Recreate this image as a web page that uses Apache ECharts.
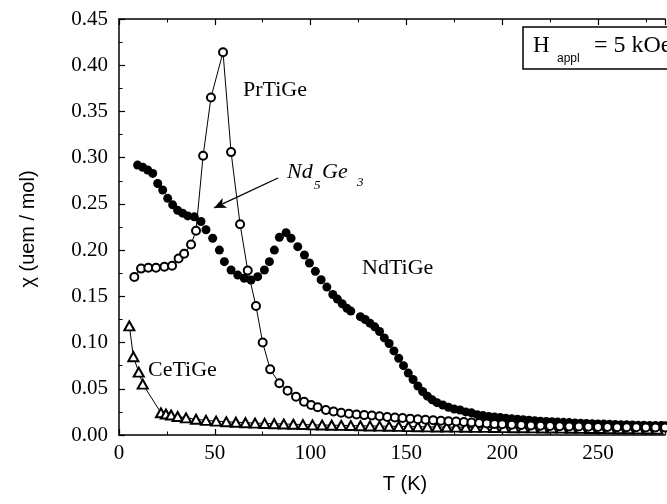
<!DOCTYPE html>
<html>
<head>
<meta charset="utf-8">
<script src="https://cdn.jsdelivr.net/npm/echarts@6/dist/echarts.min.js"></script>
<style>html,body{margin:0;padding:0;background:#fff}#c{width:667px;height:504px}</style>
</head>
<body>
<div id="c"></div>
<script>
// ---- data ----
const prT = [8, 11.5, 15.3, 19.3, 23.7, 27.7, 31.1, 34, 37.6, 40.2, 43.9, 48, 54.3, 58.5, 63.2, 67.2, 71.5, 75, 78.9, 83.7, 88, 92.4, 96.6, 100.3, 103.7, 108, 112, 116, 120, 124, 128, 132, 136, 140, 144, 148, 152, 156, 160, 164, 168, 172, 176, 180, 184, 188, 192, 196, 200, 205, 210, 215, 220, 225, 230, 235, 240, 245, 250, 255, 260, 265, 270, 275, 280, 285];
const prChi = [0.171, 0.180, 0.181, 0.181, 0.182, 0.183, 0.191, 0.196, 0.206, 0.221, 0.302, 0.365, 0.414, 0.306, 0.228, 0.178, 0.1395, 0.100, 0.071, 0.056, 0.048, 0.0415, 0.036, 0.0325, 0.030, 0.027, 0.0255, 0.024, 0.023, 0.0222, 0.0215, 0.021, 0.0203, 0.0195, 0.019, 0.0183, 0.0177, 0.017, 0.0165, 0.016, 0.0155, 0.015, 0.0145, 0.0140, 0.0135, 0.0130, 0.0125, 0.0120, 0.0116, 0.0112, 0.0108, 0.0104, 0.0101, 0.0098, 0.0095, 0.0093, 0.0091, 0.0089, 0.0087, 0.0086, 0.0085, 0.0084, 0.0083, 0.0082, 0.0081, 0.0080];

const ceT = [5.4, 7.5, 10.3, 12.4, 21.9, 24.5, 27.2, 30.6, 35, 40.2, 45.4, 50.7, 56, 61, 66, 71, 76, 81, 86, 91, 96, 101, 106, 111, 116, 121, 126, 131, 136, 141, 146, 151, 156, 161, 166, 171, 176, 181, 186, 191, 196, 201, 206, 211, 216, 221, 226, 231, 236, 241, 246, 251, 256, 261, 266, 271, 276, 281];
const ceChi = [0.118, 0.0847, 0.068, 0.055, 0.024, 0.0227, 0.0216, 0.0200, 0.0185, 0.0170, 0.0158, 0.0150, 0.0143, 0.0138, 0.0133, 0.0129, 0.0125, 0.0122, 0.0119, 0.0116, 0.0113, 0.0110, 0.0108, 0.0106, 0.0104, 0.0102, 0.0100, 0.0098, 0.0096, 0.0094, 0.0093, 0.0091, 0.0090, 0.0088, 0.0087, 0.0086, 0.0085, 0.0084, 0.0083, 0.0082, 0.0081, 0.0080, 0.0079, 0.0078, 0.0077, 0.0076, 0.0075, 0.0074, 0.0073, 0.0072, 0.0071, 0.0070, 0.0069, 0.0068, 0.0067, 0.0066, 0.0065, 0.0064];

const ndT = [9.7, 12.4, 15, 17.6, 20.2, 22.8, 25.4, 28, 30.6, 33.2, 35.9, 39.3, 42.8, 45.4, 48.9, 52.4, 55, 58.5, 62, 65.4, 68.9, 72.4, 75.9, 78.5, 81.1, 83.7, 87.2, 89.8, 93.3, 96.8, 99.4, 102.5, 105.5, 108.5, 111.6, 114, 116.5, 119, 121, 126, 128.5, 131, 133.5, 136, 138.5, 141, 143.5, 146, 148.5, 151, 153.5, 156, 158.5, 161, 163.5, 166, 169, 172, 175, 178, 181, 184, 187, 190, 193, 196, 199, 202, 205, 208, 211, 214, 217, 220, 223, 226, 229, 232, 235, 238, 241, 244, 247, 250, 253, 256, 259, 262, 265, 268, 271, 274, 277, 280, 283, 285];
const ndChi = [0.292, 0.2896, 0.2867, 0.283, 0.272, 0.265, 0.256, 0.249, 0.243, 0.240, 0.237, 0.236, 0.231, 0.222, 0.2128, 0.200, 0.1875, 0.1785, 0.173, 0.1695, 0.1677, 0.1713, 0.1785, 0.1875, 0.200, 0.2138, 0.2189, 0.2128, 0.2037, 0.1947, 0.186, 0.177, 0.168, 0.160, 0.152, 0.147, 0.142, 0.137, 0.134, 0.128, 0.125, 0.121, 0.117, 0.112, 0.105, 0.099, 0.091, 0.083, 0.075, 0.067, 0.060, 0.053, 0.047, 0.042, 0.038, 0.035, 0.0325, 0.030, 0.028, 0.027, 0.025, 0.024, 0.022, 0.021, 0.020, 0.0195, 0.019, 0.018, 0.0175, 0.017, 0.0165, 0.016, 0.0155, 0.015, 0.0147, 0.0143, 0.014, 0.0137, 0.0134, 0.0131, 0.0128, 0.0125, 0.0122, 0.012, 0.0118, 0.0116, 0.0114, 0.0112, 0.011, 0.0108, 0.0106, 0.0105, 0.0104, 0.0103, 0.0102, 0.0101];

// Nd5Ge3 arrow, in data coordinates (tail -> head)
const arrowFrom = [83, 0.278];
const arrowTo = [49.6, 0.2456];

const zip = (a, b) => a.map((v, i) => [v, b[i]]);

const serif = '"Liberation Serif", "Times New Roman", "DejaVu Serif", serif';
const sans = '"Liberation Sans", Arial, "DejaVu Sans", sans-serif';

const chart = echarts.init(document.getElementById('c'), null, {renderer: 'canvas'});
const axisCommon = {
  type: 'value',
  axisLine: {show: true, onZero: false, lineStyle: {color: '#000', width: 1.5}},
  axisTick: {show: true, inside: true, length: 6, lineStyle: {color: '#000', width: 1.2}},
  minorTick: {show: true, splitNumber: 2, length: 3.5, lineStyle: {color: '#000', width: 1}},
  splitLine: {show: false}
};
chart.setOption({
  animation: false,
  backgroundColor: '#fff',
  grid: {left: 119, top: 19, right: 2, bottom: 69, containLabel: false},
  xAxis: [
    Object.assign({}, axisCommon, {
      position: 'bottom', min: 0, max: 285, interval: 50,
      axisLabel: {color: '#000', fontFamily: serif, fontSize: 21, margin: 8,
        showMaxLabel: false}
    }),
    Object.assign({}, axisCommon, {
      position: 'top', min: 0, max: 285, interval: 50,
      axisLabel: {show: false}
    })
  ],
  yAxis: [
    Object.assign({}, axisCommon, {
      position: 'left', min: 0, max: 0.45, interval: 0.05,
      axisLabel: {color: '#000', fontFamily: serif, fontSize: 21, margin: 11,
        formatter: v => v.toFixed(2)}
    })
  ],
  series: [
    {
      name: 'CeTiGe', type: 'line', data: zip(ceT, ceChi),
      symbol: 'emptyTriangle', symbolSize: [10, 9],
      itemStyle: {color: '#000', borderWidth: 1.1},
      lineStyle: {color: '#000', width: 1}, z: 2
    },
    {
      name: 'NdTiGe', type: 'scatter', data: zip(ndT, ndChi),
      symbol: 'circle', symbolSize: 9,
      itemStyle: {color: '#000', opacity: 1}, z: 3,
      markLine: {
        silent: true, symbol: ['none', 'arrow'], symbolSize: [8, 12],
        label: {show: false},
        lineStyle: {color: '#000', width: 1.3, type: 'solid'},
        data: [[{coord: arrowFrom}, {coord: arrowTo}]]
      }
    },
    {
      name: 'PrTiGe', type: 'line', data: zip(prT, prChi),
      symbol: 'emptyCircle', symbolSize: 8,
      itemStyle: {color: '#000', borderWidth: 1.1},
      lineStyle: {color: '#000', width: 1}, z: 4
    }
  ],
  graphic: [
    {type: 'text', z: 100, style: {text: 'PrTiGe', x: 243, y: 90, font: '22px ' + serif, fill: '#000', verticalAlign: 'middle'}},
    {type: 'text', z: 100, style: {text: 'NdTiGe', x: 362, y: 268, font: '22px ' + serif, fill: '#000', verticalAlign: 'middle'}},
    {type: 'text', z: 100, style: {text: 'CeTiGe', x: 148, y: 370, font: '22px ' + serif, fill: '#000', verticalAlign: 'middle'}},
    {type: 'text', z: 100, style: {text: 'Nd', x: 287, y: 172, font: 'italic 22px ' + serif, fill: '#000', verticalAlign: 'middle'}},
    {type: 'text', z: 100, style: {text: '5', x: 314, y: 186, font: 'italic 13px ' + serif, fill: '#000', verticalAlign: 'middle'}},
    {type: 'text', z: 100, style: {text: 'Ge', x: 322, y: 172, font: 'italic 22px ' + serif, fill: '#000', verticalAlign: 'middle'}},
    {type: 'text', z: 100, style: {text: '3', x: 357, y: 183, font: 'italic 13px ' + serif, fill: '#000', verticalAlign: 'middle'}},
    {type: 'rect', z: 100, shape: {x: 523, y: 27, width: 200, height: 42}, style: {fill: '#fff', stroke: '#000', lineWidth: 1.5}},
    {type: 'text', z: 101, style: {text: 'H', x: 533, y: 46, font: '23px ' + serif, fill: '#000', verticalAlign: 'middle'}},
    {type: 'text', z: 101, style: {text: 'appl', x: 557, y: 59, font: '12px ' + sans, fill: '#000', verticalAlign: 'middle'}},
    {type: 'text', z: 101, style: {text: '= 5 kOe', x: 594, y: 46, font: '24px ' + serif, fill: '#000', verticalAlign: 'middle'}},
    {type: 'text', z: 100, style: {text: 'T (K)', x: 405, y: 484, font: '20px ' + sans, fill: '#000', align: 'center', verticalAlign: 'middle'}},
    {type: 'text', z: 100, rotation: Math.PI / 2, x: 28, y: 229, style: {text: 'χ (uem / mol)', x: 0, y: 0, font: '20px ' + sans, fill: '#000', align: 'center', verticalAlign: 'middle'}}
  ]
});
</script>
</body>
</html>
